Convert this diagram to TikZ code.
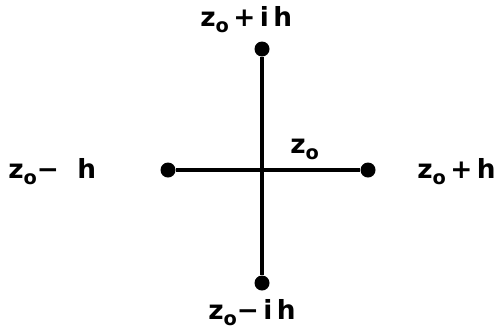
\documentclass[tikz,border=0pt]{standalone}
\usepackage{fontspec}
\setmainfont{DejaVu Sans}
\usepackage{tikz}
\usetikzlibrary{positioning}

\newcommand{\zo}{z\raisebox{-0.45ex}{\fontsize{11}{11}\selectfont o}}

\begin{document}
\begin{tikzpicture}[
      x=0.02cm, y=-0.02cm,
      dot/.style   = {circle, fill=black, inner sep=0pt, minimum size=0.3cm},
      pt/.style    = {font=\fontsize{15}{17}\selectfont\bfseries, inner sep=0pt},
      arm/.style   = {line width=1.8pt, black},
    ]
    \useasboundingbox (0,0) rectangle (499,329);

    \node[dot] (top)  at (262,49)  {};
    \node[dot] (bot)  at (262,283) {};
    \node[dot] (west) at (168,170) {};
    \node[dot] (east) at (368,170) {};

    \draw[arm] (top)  -- (bot);
    \draw[arm] (west) -- (east);

    \node[pt, anchor=base west] (ltop)  at (200,26)  {\zo\,+\,i\,h};
    \node[pt, anchor=base west] (lbot)  at (208,319) {\zo{}−\,i\,h};
    \node[pt, anchor=base west] (lwest) at (8,178)   {\zo{}−\ \ h};
    \node[pt, anchor=base west] (least) at (417,178) {\zo\,+\,h};
    \node[pt, anchor=base west] (lc)    at (290,153) {\zo};
  \end{tikzpicture}
\end{document}
